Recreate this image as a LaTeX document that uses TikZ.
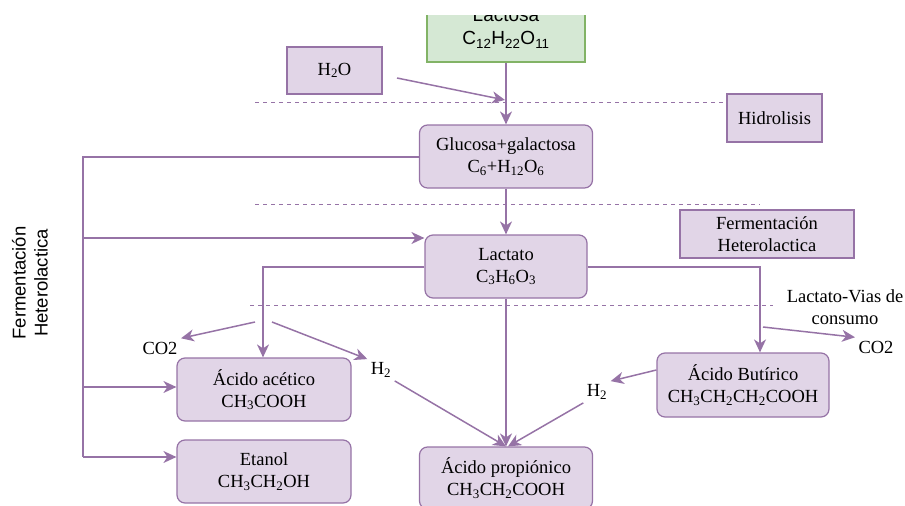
\documentclass[tikz,border=0pt]{standalone}
\usepackage{fontspec}
\setmainfont{Liberation Serif}
\newfontfamily\sansfnt{Liberation Sans}
\usetikzlibrary{arrows.meta}

\definecolor{lila}{HTML}{E1D5E7}
\definecolor{lilaborde}{HTML}{9673A6}
\definecolor{verde}{HTML}{D5E8D4}
\definecolor{verdeborde}{HTML}{82B366}

\tikzset{
  caja/.style={draw=lilaborde, fill=lila, line width=1.2pt, align=center, inner sep=0pt},
  redonda/.style={caja, rounded corners=8pt},
  flecha/.style={draw=lilaborde, line width=1.5pt, -{Stealth[length=13pt,width=12pt,inset=4pt]}},
  linea/.style={draw=lilaborde, line width=1.5pt},
  corte/.style={draw=lilaborde, line width=0.9pt, dash pattern=on 4pt off 4pt},
}

\begin{document}
\begin{tikzpicture}[x=1pt, y=-1pt, font=\fontsize{18.5}{22}\selectfont]
\useasboundingbox (0,0) rectangle (905,506);
\clip (0,15) rectangle (905,506);       % la caja de lactosa queda cortada arriba

% cajas
\node[caja, draw=verdeborde, fill=verde, minimum width=158pt, minimum height=67pt, font=\sansfnt\fontsize{19}{23}\selectfont]
  (lac) at (506,28.5) {Lactosa\\C\textsubscript{12}H\textsubscript{22}O\textsubscript{11}};
\node[caja, minimum width=95pt, minimum height=47pt] (h2o) at (334.5,70.5) {H\textsubscript{2}O};
\node[caja, minimum width=95pt, minimum height=48pt] (hid) at (774.5,118) {Hidrolisis};
\node[redonda, minimum width=173pt, minimum height=63pt] (glu) at (506,156.5) {Glucosa+galactosa\\C\textsubscript{6}+H\textsubscript{12}O\textsubscript{6}};
\node[caja, minimum width=174pt, minimum height=48pt] (fer) at (767,234) {Fermentación\\Heterolactica};
\node[redonda, minimum width=162pt, minimum height=63pt] (lct) at (506,266.5) {Lactato\\C\textsubscript{3}H\textsubscript{6}O\textsubscript{3}};
\node[redonda, minimum width=174pt, minimum height=63pt] (ace) at (264,389.5) {Ácido acético\\CH\textsubscript{3}COOH};
\node[redonda, minimum width=174pt, minimum height=63pt] (eta) at (264,471.5) {Etanol\\CH\textsubscript{3}CH\textsubscript{2}OH};
\node[redonda, minimum width=172pt, minimum height=64pt] (but) at (743,385) {Ácido Butírico\\CH\textsubscript{3}CH\textsubscript{2}CH\textsubscript{2}COOH};
\node[redonda, minimum width=173pt, minimum height=62pt] (pro) at (506,478) {Ácido propiónico\\CH\textsubscript{3}CH\textsubscript{2}COOH};

% textos sueltos
\node (co2a) at (160,348) {CO2};
\node (h2a) at (381,370) {H\textsubscript{2}};
\node (h2b) at (597,392) {H\textsubscript{2}};
\node (co2b) at (876,347) {CO2};
\node[align=center] (vias) at (845,307) {Lactato-Vias de\\consumo};
\node[rotate=90, align=center, font=\sansfnt\fontsize{18.5}{22}\selectfont] (lado) at (30,283) {Fermentación\\Heterolactica};

% lineas de corte entre etapas
\foreach \y/\a/\b in {102/255/725, 204/255/760, 305/250/773}
  \draw[corte] (\a,\y) -- (\b,\y);

% puntos libres
\coordinate (agua) at (397,78);
\coordinate (union) at (505,100);
\coordinate (ramaI) at (83,157);
\coordinate (izqA) at (263,267);
\coordinate (derB) at (760,267);
\coordinate (co2i) at (255,322);
\coordinate (h2i) at (272,322);
\coordinate (co2d) at (763,327);

% hidrolisis
\draw[flecha] (agua) -- (union);
\draw[flecha] (lac.south) -- (glu.north);
\draw[flecha] (glu.south) -- (lct.north);

% rama de la izquierda
\draw[linea] (glu.west |- ramaI) -- (ramaI) -- (83,457);
\draw[flecha] (83,238) -- (lct.west |- 0,238);
\draw[flecha] (83,387) -- (ace.west |- 0,387);
\draw[flecha] (83,457) -- (eta.west |- 0,457);

% vias de consumo del lactato
\draw[flecha] (lct.west |- izqA) -- (izqA) -- (izqA |- ace.north);
\draw[flecha] (lct.east |- derB) -- (derB) -- (derB |- but.north);
\draw[flecha] (lct.south) -- (pro.north);
\draw[flecha] (co2i) -- (co2a.north east);
\draw[flecha] (h2i) -- (h2a.north west);
\draw[flecha] (h2a.south east) -- (pro.north);
\draw[flecha] (but.west |- 0,370) -- (h2b.north east);
\draw[flecha] (h2b.south west) -- ([xshift=2pt]pro.north);
\draw[flecha] (co2d) -- (co2b.north west);
\end{tikzpicture}
\end{document}
